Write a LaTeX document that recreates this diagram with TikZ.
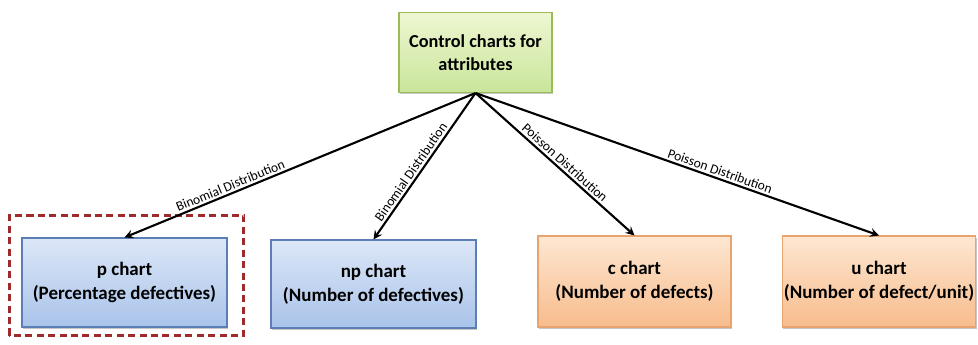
\documentclass[tikz,border=0pt]{standalone}
\usepackage{fontspec}
\setmainfont{Carlito}
\usepackage{tikz}
\usetikzlibrary{shapes.geometric, arrows}
\usetikzlibrary{calc}
\usetikzlibrary{shadows}
\definecolor{topfill}{HTML}{EEF7D2}
\definecolor{topfilltwo}{HTML}{C9E59A}
\definecolor{topline}{HTML}{9BBB59}
\definecolor{bluefill}{HTML}{DCE7F7}
\definecolor{bluefilltwo}{HTML}{A9C3EA}
\definecolor{blueline}{HTML}{5B7FB5}
\definecolor{orangefill}{HTML}{FDE7D2}
\definecolor{orangefilltwo}{HTML}{F8BC8C}
\definecolor{orangeline}{HTML}{E8A46E}
\definecolor{dashred}{HTML}{9E2A2B}
\tikzstyle{arrow} = [line width=1.2pt,->,>=stealth]
\tikzstyle{chartbox} = [rectangle, draw, line width=0.6pt, align=center, inner xsep=1pt,
  font=\fontsize{10.8}{13.5}\selectfont\bfseries, drop shadow={opacity=0.45, shadow xshift=0.7pt, shadow yshift=-1pt}]
\tikzstyle{topbox} = [chartbox, draw=topline, top color=topfill, bottom color=topfilltwo,
  font=\fontsize{10.4}{13}\selectfont\bfseries]
\tikzstyle{bluebox} = [chartbox, draw=blueline, top color=bluefill, bottom color=bluefilltwo]
\tikzstyle{orangebox} = [chartbox, draw=orangeline, top color=orangefill, bottom color=orangefilltwo]
\tikzstyle{distlabel} = [font=\fontsize{7.7}{9}\selectfont, sloped, above, inner sep=1.2pt]

\begin{document}
\begin{tikzpicture}
\useasboundingbox (0,0) rectangle (19.56,6.9);
% attribute chart tree
\node[topbox, minimum width=3.06cm, minimum height=1.6cm] (attr) at (9.51,5.85) {Control charts for\\attributes};
\node[bluebox, minimum width=4.1cm, minimum height=1.78cm] (pchart) at (2.49,1.25) {p chart\\(Percentage defectives)};
\node[bluebox, minimum width=4.1cm, minimum height=1.76cm] (npchart) at (7.47,1.22) {np chart\\(Number of defectives)};
\node[orangebox, minimum width=3.86cm, minimum height=1.82cm] (cchart) at (12.69,1.27) {c chart\\(Number of defects)};
\node[orangebox, minimum width=3.84cm, minimum height=1.82cm] (uchart) at (17.58,1.27) {u chart\\(Number of defect/unit)};
\draw[draw=dashred, line width=1.3pt, dash pattern=on 4pt off 2.5pt]
  ($(pchart.south west)+(-0.24,-0.16)$) rectangle ($(pchart.north east)+(0.32,0.44)$);
\draw[arrow] (attr.south) -- node[distlabel, pos=0.69] {Binomial Distribution} (pchart.north);
\draw[arrow] (attr.south) -- node[distlabel, pos=0.57] {Binomial Distribution} (npchart.north);
\draw[arrow] (attr.south) -- node[distlabel, pos=0.53] {Poisson Distribution} (cchart.north);
\draw[arrow] (attr.south) -- node[distlabel, pos=0.6] {Poisson Distribution} (uchart.north);
\end{tikzpicture}
\end{document}
